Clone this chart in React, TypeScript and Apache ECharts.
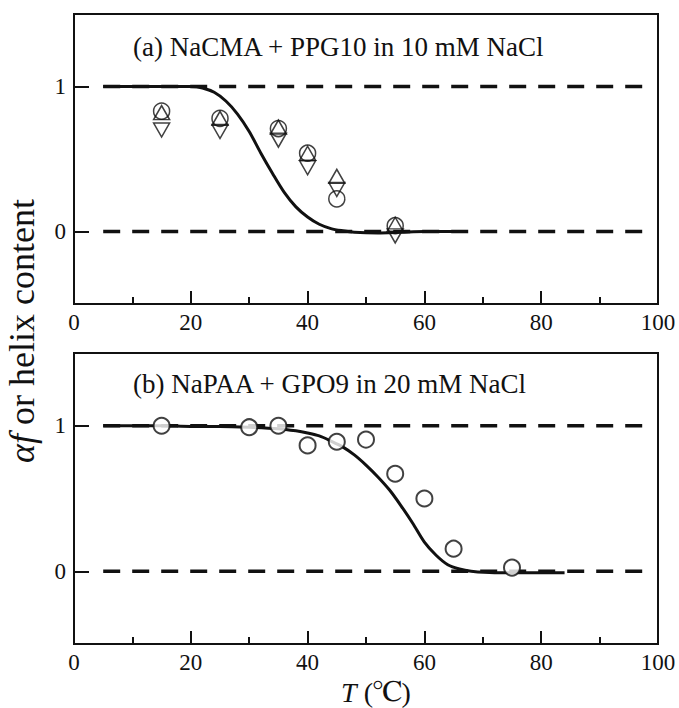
import React, { useEffect, useRef } from "react";
import * as echarts from "echarts";

const FONT = "Liberation Serif";
const INK = "#111111";

// x ticks
const xTicks = [0, 20, 40, 60, 80, 100];
const yTickValues = [0, 1];

// dashed reference levels
const dashLevels = [0, 1];
const dashRange = [5, 98];

// panel (a): NaCMA + PPG10 in 10 mM NaCl
const topTitle = "(a) NaCMA + PPG10 in 10 mM NaCl";
const topCurve: [number, number][] = [
  [5, 1.0], [10, 1.0], [15, 1.0], [20, 1.0], [22, 0.99], [24, 0.96], [26, 0.9],
  [28, 0.81], [30, 0.69], [32, 0.54], [34, 0.4], [36, 0.27], [38, 0.17],
  [40, 0.1], [42, 0.05], [44, 0.02], [46, 0.005], [48, -0.005], [52, -0.01],
  [56, -0.005], [60, 0.0], [67, 0.0],
];
const topCircle: [number, number][] = [
  [15, 0.83], [25, 0.78], [35, 0.71], [40, 0.54], [45, 0.225], [55, 0.04],
];
const topUp: [number, number][] = [
  [15, 0.82], [25, 0.78], [35, 0.72], [40, 0.54], [45, 0.38], [55, 0.05],
];
const topDown: [number, number][] = [
  [15, 0.7], [25, 0.69], [35, 0.63], [40, 0.44], [45, 0.29], [55, -0.03],
];

// panel (b): NaPAA + GPO9 in 20 mM NaCl
const bottomTitle = "(b) NaPAA + GPO9 in 20 mM NaCl";
const bottomCurve: [number, number][] = [
  [5, 1.0], [10, 1.0], [15, 1.0], [20, 0.995], [25, 0.995], [30, 0.99],
  [35, 0.98], [38, 0.965], [40, 0.95], [42, 0.93], [44, 0.895], [46, 0.855],
  [48, 0.8], [50, 0.73], [52, 0.65], [54, 0.56], [56, 0.45], [58, 0.33],
  [60, 0.2], [62, 0.11], [64, 0.045], [66, 0.015], [68, 0.0], [72, -0.01],
  [78, -0.01], [84, -0.01],
];
const bottomCircle: [number, number][] = [
  [15, 1.0], [30, 0.99], [35, 1.0], [40, 0.865], [45, 0.89], [50, 0.905],
  [55, 0.67], [60, 0.5], [65, 0.155], [75, 0.025],
];

export default function App() {
  const ref = useRef<HTMLDivElement>(null);

  useEffect(() => {
    if (!ref.current) return;
    const chart = echarts.init(ref.current, undefined, { renderer: "svg" });

    const grids = [
      { left: 74, top: 14, width: 584, height: 290 },
      { left: 74, top: 353, width: 584, height: 291 },
    ];

    const axisLineStyle = { color: INK, width: 2 };

    const xAxes = grids.map((_, i) => ({
      gridIndex: i,
      type: "value",
      min: xTicks[0],
      max: xTicks[xTicks.length - 1],
      interval: xTicks[1] - xTicks[0],
      axisLine: { show: true, onZero: false, lineStyle: axisLineStyle },
      axisTick: { show: true, inside: true, length: 13, lineStyle: axisLineStyle },
      minorTick: { show: true, splitNumber: 2, length: 7, lineStyle: axisLineStyle },
      axisLabel: { fontFamily: FONT, fontSize: 23, color: INK, margin: 7 },
      splitLine: { show: false },
    }));

    const yAxes = grids.map((_, i) => ({
      gridIndex: i,
      type: "value",
      min: -0.5,
      max: 1.5,
      axisLine: { show: true, onZero: false, lineStyle: axisLineStyle },
      axisTick: {
        show: true,
        inside: true,
        length: 15,
        customValues: yTickValues,
        lineStyle: axisLineStyle,
      },
      axisLabel: {
        fontFamily: FONT,
        fontSize: 23,
        color: INK,
        margin: 8,
        customValues: yTickValues,
      },
      splitLine: { show: false },
    }));

    const series: any[] = [];
    [0, 1].forEach((gi) => {
      dashLevels.forEach((lvl) => {
        series.push({
          type: "line",
          xAxisIndex: gi,
          yAxisIndex: gi,
          data: dashRange.map((x) => [x, lvl]),
          symbol: "none",
          lineStyle: { color: INK, width: 3.5, type: [17, 12] },
          z: 2,
          silent: true,
        });
      });
    });

    series.push({
      type: "line",
      xAxisIndex: 0,
      yAxisIndex: 0,
      data: topCurve,
      symbol: "none",
      smooth: 0.3,
      lineStyle: { color: INK, width: 3 },
      z: 3,
    });
    series.push({
      type: "line",
      xAxisIndex: 1,
      yAxisIndex: 1,
      data: bottomCurve,
      symbol: "none",
      smooth: 0.3,
      lineStyle: { color: INK, width: 3 },
      z: 3,
    });

    const hollow = { color: "rgba(255,255,255,0)", borderColor: INK, borderWidth: 1.5 };
    series.push({
      type: "scatter",
      xAxisIndex: 0,
      yAxisIndex: 0,
      data: topCircle,
      symbol: "circle",
      symbolSize: 16,
      itemStyle: hollow,
      z: 4,
    });
    series.push({
      type: "scatter",
      xAxisIndex: 0,
      yAxisIndex: 0,
      data: topUp,
      symbol: "triangle",
      symbolSize: [16, 14],
      itemStyle: hollow,
      z: 4,
    });
    series.push({
      type: "scatter",
      xAxisIndex: 0,
      yAxisIndex: 0,
      data: topDown,
      symbol: "triangle",
      symbolRotate: 180,
      symbolSize: [16, 14],
      itemStyle: hollow,
      z: 4,
    });
    series.push({
      type: "scatter",
      xAxisIndex: 1,
      yAxisIndex: 1,
      data: bottomCircle,
      symbol: "circle",
      symbolSize: 16,
      itemStyle: { color: "#ffffff", borderColor: INK, borderWidth: 2 },
      z: 5,
    });

    chart.setOption({
      animation: false,
      backgroundColor: "#ffffff",
      textStyle: { fontFamily: FONT },
      grid: grids.map((g) => ({ ...g, show: true, borderColor: INK, borderWidth: 2, backgroundColor: "transparent" })),
      xAxis: xAxes,
      yAxis: yAxes,
      series,
      graphic: [
        {
          type: "text",
          left: 133,
          top: 33,
          style: { text: topTitle, fontFamily: FONT, fontSize: 27, fill: INK },
        },
        {
          type: "text",
          left: 133,
          top: 370,
          style: { text: bottomTitle, fontFamily: FONT, fontSize: 27, fill: INK },
        },
        {
          type: "text",
          x: 22,
          y: 331,
          rotation: Math.PI / 2,
          style: {
            text: "{i|αf}{n| or helix content}",
            align: "center",
            verticalAlign: "middle",
            rich: {
              i: { fontFamily: FONT, fontSize: 36, fontStyle: "italic", fill: INK },
              n: { fontFamily: FONT, fontSize: 36, fill: INK },
            },
          },
        },
        {
          type: "text",
          x: 376,
          y: 692,
          style: {
            text: "{i|T}{n| (}{c|℃}{n|)}",
            align: "center",
            verticalAlign: "middle",
            rich: {
              i: { fontFamily: FONT, fontSize: 28, fontStyle: "italic", fill: INK },
              n: { fontFamily: FONT, fontSize: 28, fill: INK },
              c: { fontFamily: "FreeSerif, Liberation Serif", fontSize: 30, fill: INK },
            },
          },
        },
      ],
    });

    return () => chart.dispose();
  }, []);

  return (
    <div
      ref={ref}
      style={{ position: "fixed", left: 0, top: 0, width: 679, height: 708, background: "#fff" }}
    />
  );
}
